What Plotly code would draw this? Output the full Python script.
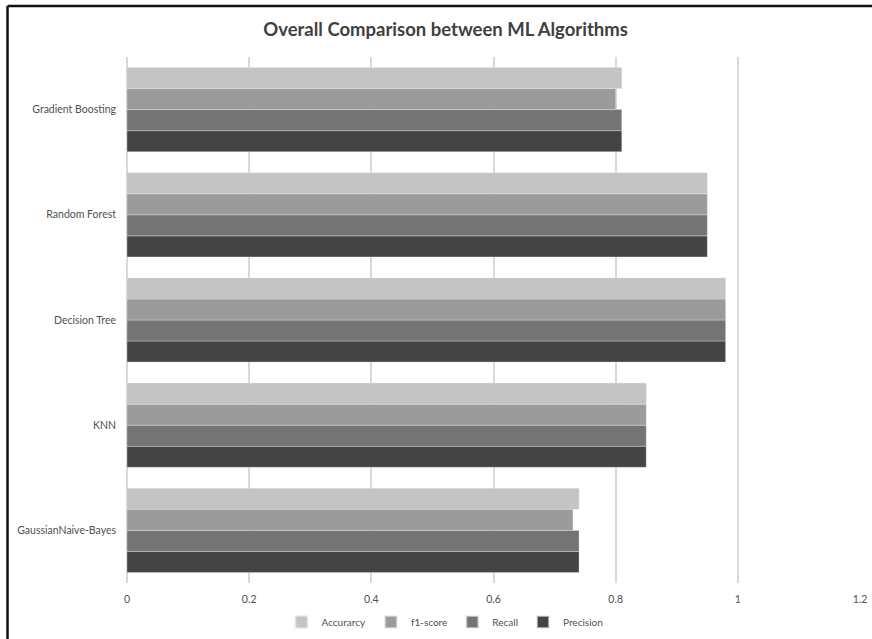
import plotly.graph_objects as go

categories = ["GaussianNaive-Bayes", "KNN", "Decision Tree", "Random Forest", "Gradient Boosting"]
precision = [0.74, 0.85, 0.98, 0.95, 0.81]
recall = [0.74, 0.85, 0.98, 0.95, 0.81]
f1_score = [0.73, 0.85, 0.98, 0.95, 0.80]
accuracy = [0.74, 0.85, 0.98, 0.95, 0.81]

x_ticks = [0, 0.2, 0.4, 0.6, 0.8, 1, 1.2]
x_tick_labels = ["0", "0.2", "0.4", "0.6", "0.8", "1", "1.2"]

series = [
    ("Precision", precision, "#444444"),
    ("Recall", recall, "#747474"),
    ("f1-score", f1_score, "#9b9b9b"),
    ("Accurarcy", accuracy, "#c4c4c4"),
]

fig = go.Figure()
for name, vals, color in series:
    fig.add_trace(go.Bar(
        y=categories, x=vals, name=name, orientation="h",
        marker=dict(color=color, line=dict(color="rgba(230,230,230,0.6)", width=0.6)),
    ))

FONT = "Lato, 'Open Sans', sans-serif"

W, H = 872, 639
fig.update_layout(
    width=W, height=H,
    margin=dict(l=127, r=12, t=57, b=56, autoexpand=False),
    paper_bgcolor="white", plot_bgcolor="white",
    barmode="group", bargap=0.2, bargroupgap=0,
    title=dict(text="<b>Overall Comparison between ML Algorithms</b>",
               x=0.511, xanchor="center", y=1 - 30 / H, yanchor="middle",
               font=dict(family=FONT, size=18.5, color="#404040")),
    font=dict(family=FONT, size=10, color="#505050"),
    xaxis=dict(range=[0, 1.2], tickvals=x_ticks, ticktext=x_tick_labels,
               showgrid=True, gridcolor="#d9d9d9", gridwidth=1.5,
               zeroline=True, zerolinecolor="#d9d9d9", zerolinewidth=1.5,
               showline=False, ticks="", ticklabelstandoff=8,
               ticklabeloverflow="allow", automargin=False,
               tickfont=dict(size=10.5, color="#505050")),
    yaxis=dict(categoryorder="array", categoryarray=categories,
               showgrid=False, zeroline=False, showline=False, ticks="",
               ticklabelstandoff=10, automargin=False,
               tickfont=dict(size=10.5, color="#505050")),
    legend=dict(orientation="h", traceorder="reversed",
                xref="container", yref="container",
                x=445 / W, xanchor="center",
                y=(H - 622) / H, yanchor="middle",
                font=dict(size=10, color="#505050"),
                itemwidth=30, itemsizing="constant"),
    shapes=[
        dict(type="line", xref="paper", yref="paper",
             x0=-0.163, x1=1.03, y0=1.097, y1=1.097,
             line=dict(color="#111111", width=2.5)),
        dict(type="line", xref="paper", yref="paper",
             x0=-0.163, x1=-0.163, y0=1.097, y1=-0.13,
             line=dict(color="#111111", width=2.5)),
    ],
)

fig.write_html("out.html")
